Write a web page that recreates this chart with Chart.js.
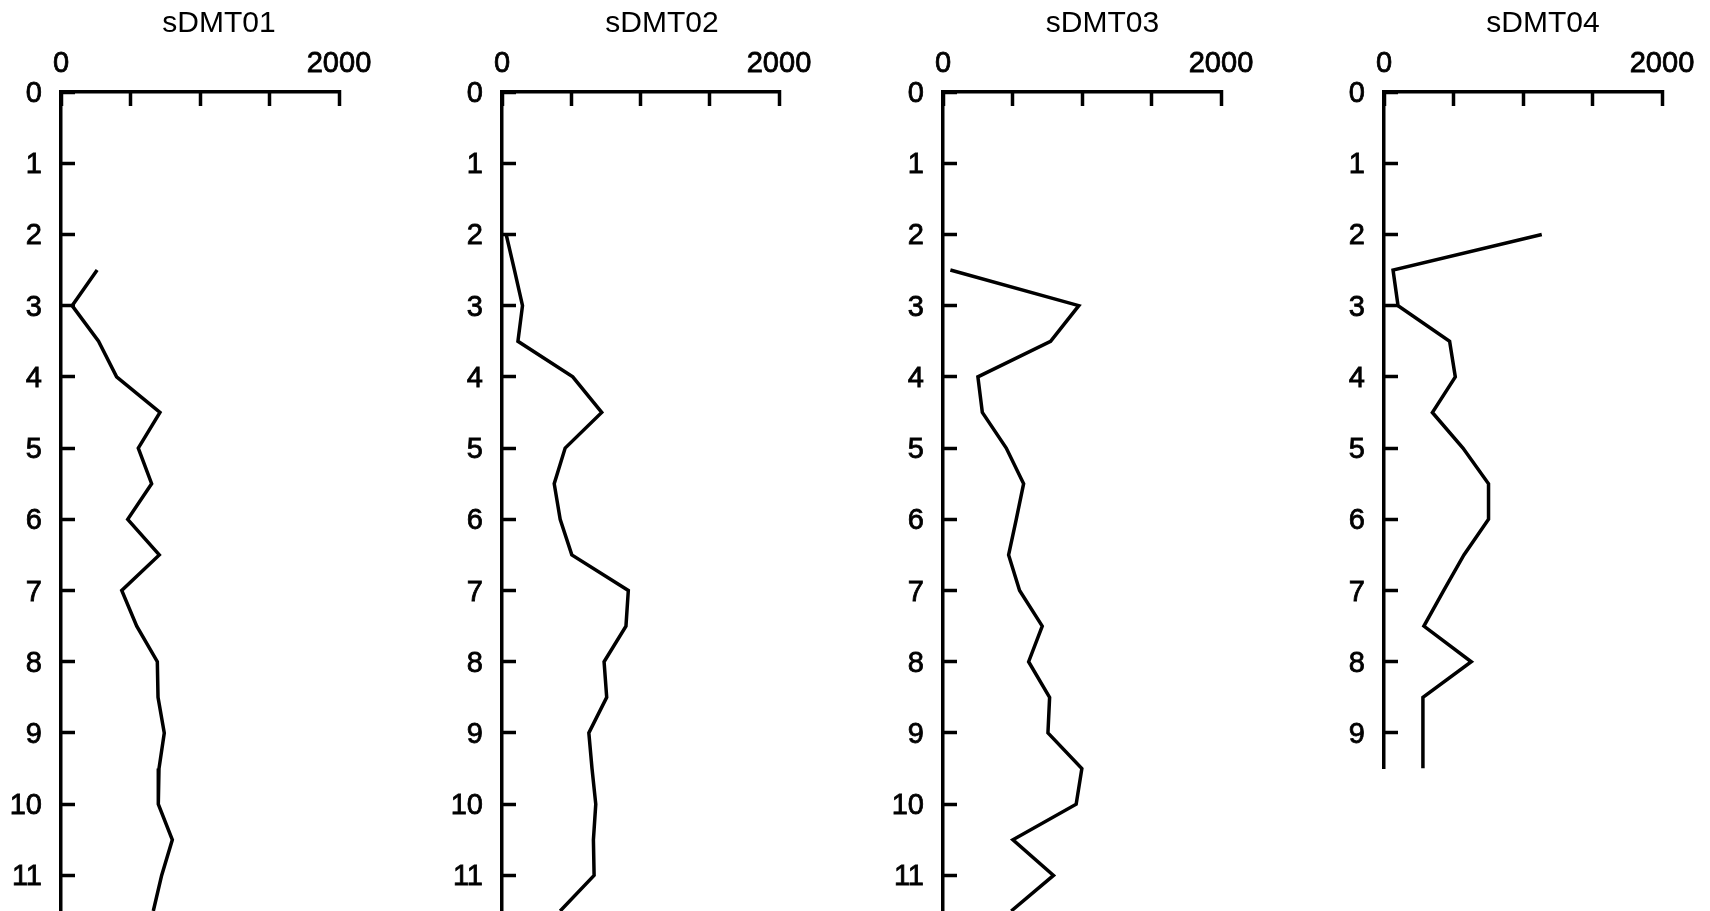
<!DOCTYPE html>
<html><head><meta charset="utf-8">
<script src="https://cdn.jsdelivr.net/npm/chart.js@4.4.1/dist/chart.umd.min.js"></script>
<style>
html,body{margin:0;padding:0;background:#fff;overflow:hidden;width:1710px;height:911px;position:relative;}
canvas{position:absolute;top:0;}
</style></head><body>
<canvas id="c0"></canvas><canvas id="c1"></canvas><canvas id="c2"></canvas><canvas id="c3"></canvas>
<script>
// ---- data ----
const titles = ['sDMT01', 'sDMT02', 'sDMT03', 'sDMT04'];

const depth01 = [2.5, 3, 3.5, 4, 4.5, 5, 5.5, 6, 6.5, 7, 7.5, 8, 8.5, 9, 9.5, 10, 10.5, 11, 11.5];
const value01 = [260, 80, 270, 400, 712, 556, 652, 480, 707, 437, 545, 693, 698, 743, 705, 700, 801, 724, 664];

const depth02 = [2, 2.5, 3, 3.5, 4, 4.5, 5, 5.5, 6, 6.5, 7, 7.5, 8, 8.5, 9, 9.5, 10, 10.5, 11, 11.5];
const value02 = [30, 90, 148, 115, 511, 720, 456, 377, 420, 504, 912, 895, 737, 756, 627, 650, 677, 660, 665, 420];

const depth03 = [2.5, 3, 3.5, 4, 4.5, 5, 5.5, 6, 6.5, 7, 7.5, 8, 8.5, 9, 9.5, 10, 10.5, 11, 11.5];
const value03 = [53, 977, 774, 251, 283, 455, 580, 527, 472, 551, 714, 616, 767, 755, 999, 958, 503, 795, 491];

const depth04 = [2, 2.5, 3, 3.5, 4, 4.5, 5, 5.5, 6, 6.5, 7, 7.5, 8, 8.5, 9, 9.5];
const value04 = [1135, 65, 101, 472, 513, 348, 568, 752, 752, 575, 429, 287, 628, 280, 280, 280];

const depthMax = [11.5, 11.5, 11.5, 9.5];
const valueMin = 0, valueMax = 2000, valueStep = 500;
const valueTickLabels = [0, 2000];
const depthStep = 1;

const depths = [depth01, depth02, depth03, depth04];
const values = [value01, value02, value03, value04];

// ---- layout ----
const CANVAS_H = 1011;         // extends below the viewport; page clips at 911
const PLOT_TOP = 92;
const UNIT_PX = (911 - PLOT_TOP) / 11.5;
const YAXIS_W = 61;
const TITLE_BLOCK = 42;
const layoutPos = [
  {left: 0,    width: 438, axisW: 278},
  {left: 441,  width: 442, axisW: 277},
  {left: 882,  width: 441, axisW: 278},
  {left: 1323, width: 440, axisW: 278}
];

Chart.defaults.font.family = "'Liberation Sans', Arial, sans-serif";
Chart.defaults.color = '#000';

for (let i = 0; i < 4; i++) {
  const L = layoutPos[i];
  const cv = document.getElementById('c' + i);
  cv.width = L.width; cv.height = CANVAS_H;
  cv.style.left = L.left + 'px';
  cv.style.width = L.width + 'px'; cv.style.height = CANVAS_H + 'px';
  const padBottom = CANVAS_H - (PLOT_TOP + depthMax[i] * UNIT_PX);
  const padRight = L.width - YAXIS_W - L.axisW;
  const pts = depths[i].map((d, k) => ({x: values[i][k], y: d}));

  new Chart(cv, {
    type: 'scatter',
    data: {datasets: [{
      data: pts, showLine: true, borderColor: '#000', borderWidth: 3.5,
      pointRadius: 0, pointHoverRadius: 0, fill: false, tension: 0
    }]},
    options: {
      responsive: false, animation: false, devicePixelRatio: 1,
      layout: {padding: {left: 0, right: 0, top: 0, bottom: padBottom}},
      plugins: {
        legend: {display: false}, tooltip: {enabled: false},
        title: {display: true, text: titles[i], color: '#000',
          font: {size: 30, weight: 'normal'}, padding: {top: 6, bottom: 0}}
      },
      scales: {
        x: {
          type: 'linear', position: 'top', min: valueMin, max: valueMax,
          grid: {display: true, drawOnChartArea: false, drawTicks: true,
                 tickLength: -14, tickWidth: 3.5, tickColor: '#000'},
          border: {display: true, color: '#000', width: 3.5},
          ticks: {stepSize: valueStep, autoSkip: false, maxRotation: 0, padding: 25,
                  font: {size: 29}, color: '#000', textStrokeColor: '#000', textStrokeWidth: 0.8,
                  callback: v => valueTickLabels.includes(v) ? String(v) : ''},
          afterFit: s => { s.height = PLOT_TOP - TITLE_BLOCK; }
        },
        y: {
          type: 'linear', position: 'left', reverse: true, min: 0, max: depthMax[i],
          grid: {display: true, drawOnChartArea: false, drawTicks: true,
                 tickLength: -14, tickWidth: 3.5, tickColor: '#000'},
          border: {display: true, color: '#000', width: 3.5},
          ticks: {stepSize: depthStep, autoSkip: false, padding: 33, labelOffset: 2,
                  font: {size: 29}, color: '#000', textStrokeColor: '#000', textStrokeWidth: 0.8},
          afterBuildTicks: s => { s.ticks = s.ticks.filter(t => Number.isInteger(t.value)); },
          afterFit: s => { s.width = YAXIS_W; }
        },
        pad: {
          type: 'linear', position: 'right', display: true,
          grid: {display: false}, border: {display: false}, ticks: {display: false},
          afterFit: s => { s.width = padRight; }
        }
      }
    }
  });
}
</script>
</body></html>
